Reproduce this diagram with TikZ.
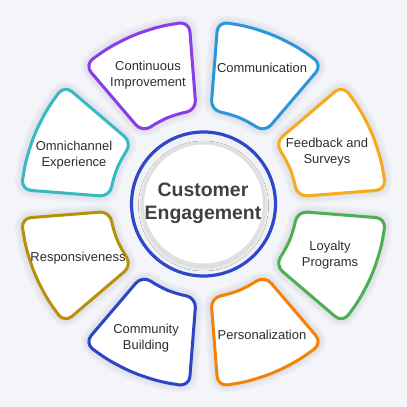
\documentclass[tikz,border=0pt]{standalone}
\usepackage{fontspec}
\setmainfont{Liberation Sans}
\usetikzlibrary{shadows.blur,calc}
\definecolor{bg}{RGB}{244,245,248}
\definecolor{txt}{RGB}{45,45,45}
\definecolor{ctxt}{RGB}{64,64,64}
\definecolor{ring}{RGB}{46,72,201}
\definecolor{cpur}{RGB}{139,59,232}
\definecolor{ccom}{RGB}{42,151,216}
\definecolor{cfb}{RGB}{246,172,26}
\definecolor{cloy}{RGB}{76,175,80}
\definecolor{cper}{RGB}{245,130,7}
\definecolor{ccmb}{RGB}{43,69,198}
\definecolor{cres}{RGB}{184,144,11}
\definecolor{comn}{RGB}{54,188,192}
\definecolor{ringin}{RGB}{241,242,245}
\definecolor{inedge}{RGB}{224,224,226}
\definecolor{shad}{RGB}{90,95,140}
\def\petalpath{($(c)+(\m-18:94)$) -- ($(c)+(\m-18:183)$) -- ($(c)+(\m-9:183)$) -- ($(c)+(\m:183)$)
    -- ($(c)+(\m+9:183)$) -- ($(c)+(\m+18:183)$) -- ($(c)+(\m+18:94)$)
    -- ($(c)+(\m+6:94)$) -- ($(c)+(\m-6:94)$) -- cycle}
\begin{document}
\begin{tikzpicture}[x=1bp,y=1bp,
  petal/.style={fill=white, line width=3bp, rounded corners=10bp, line join=round},
  halo/.style={draw=shad, fill=shad, rounded corners=10bp, line join=round, opacity=0.035},
  lbl/.style={font=\fontsize{13}{15.5}\selectfont, text=txt, align=center},
  ctr/.style={font=\fontsize{19.5}{23.5}\selectfont\bfseries, text=ctxt, align=center}]
\useasboundingbox (0,0) rectangle (407,407);
\fill[bg] (0,0) rectangle (407,407);
\coordinate (c) at (203.5,203);
\foreach \m/\col in {22.5/cfb, 67.5/ccom, 112.5/cpur, 157.5/comn, 202.5/cres, 247.5/ccmb, 292.5/cper, 337.5/cloy}{
  \pgfmathsetmacro\sx{4*cos(\m)}
  \pgfmathsetmacro\sy{4*sin(\m)}
  \begin{scope}[shift={(\sx,\sy)}]
    \foreach \w in {16,12,8,4}{\path[halo, line width=\w bp] \petalpath;}
  \end{scope}
  \draw[petal, draw=\col] \petalpath;
}
% centre
\fill[ringin] (c) circle (71);
\draw[ring, line width=3.2bp] (c) circle (72);
\draw[inedge, line width=3bp, fill=white, blur shadow={shadow xshift=0bp, shadow yshift=-2bp, shadow blur radius=4bp, shadow opacity=20}] (c) circle (61);
\node[ctr] (centre) at (203,204) {Customer\\Engagement};
% labels
\node[lbl] (cont) at (148,332) {Continuous\\Improvement};
\node[lbl] (comm) at (262,339) {Communication};
\node[lbl] (feed) at (327,255) {Feedback and\\Surveys};
\node[lbl] (loyal) at (330,152) {Loyalty\\Programs};
\node[lbl] (pers) at (262,72) {Personalization};
\node[lbl] (cmb) at (146,69) {Community\\Building};
\node[lbl] (resp) at (78,149) {Responsiveness};
\node[lbl] (omni) at (74,252) {Omnichannel\\Experience};
\end{tikzpicture}
\end{document}
